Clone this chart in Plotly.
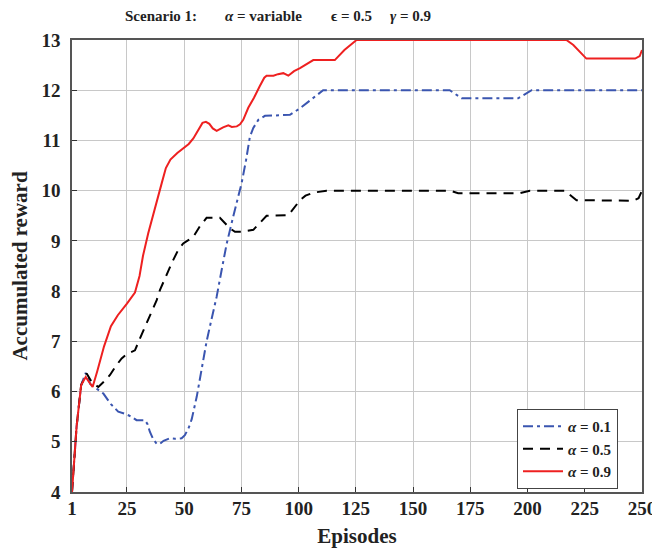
import plotly.graph_objects as go

# Episode / accumulated-reward samples for each learning rate
ep_a01 = [1, 3, 5, 7, 9, 11.8, 14.7, 18, 21.2, 24, 27, 29.2, 32.9, 34, 35, 36.5, 38, 39.4,
          41, 43.8, 46, 48.9, 50.3, 52, 53.3, 55.5, 57, 59.8, 62, 64.2, 66.5, 68.6, 71.4,
          73, 75.1, 77, 78.7, 80.2, 82.4, 85.3, 96.2, 100.6, 106.4, 110.7, 166, 171.2,
          195.9, 201.8, 250]
rw_a01 = [4.0, 5.3, 6.13, 6.37, 6.15, 6.06, 5.96, 5.75, 5.6, 5.56, 5.5, 5.43, 5.43, 5.35,
          5.2, 5.05, 4.96, 4.96, 5.02, 5.07, 5.06, 5.07, 5.13, 5.28, 5.45, 5.9, 6.3, 7.0,
          7.45, 7.89, 8.45, 8.95, 9.48, 9.75, 10.15, 10.6, 11.07, 11.25, 11.41, 11.49,
          11.51, 11.64, 11.84, 12.0, 12.0, 11.84, 11.84, 12.0, 12.0]

ep_a05 = [1, 3, 5, 7.4, 9.6, 12.5, 15, 17.6, 20, 22.7, 25, 28.5, 30.7, 33, 36, 38, 39.4,
          42, 45, 47.4, 49.6, 52, 54, 57, 59.8, 65.6, 68, 70, 72.2, 75, 80.2, 83.1, 86,
          95.5, 98, 100.6, 103, 106.4, 112.2, 166, 169.7, 196.6, 201, 216.3, 221.4,
          246.2, 248.5, 250]
rw_a05 = [4.0, 5.3, 6.13, 6.36, 6.19, 6.09, 6.2, 6.33, 6.5, 6.66, 6.75, 6.82, 7.06, 7.3,
          7.6, 7.82, 8.02, 8.3, 8.6, 8.82, 8.95, 9.02, 9.08, 9.3, 9.46, 9.46, 9.35, 9.25,
          9.18, 9.18, 9.22, 9.35, 9.5, 9.51, 9.65, 9.81, 9.9, 9.96, 10.0, 10.0, 9.95, 9.95,
          10.0, 10.0, 9.81, 9.8, 9.85, 10.0]

ep_a09 = [1, 3, 5, 7, 8, 10, 12, 15, 18, 21, 25, 28.5, 30.5, 32, 34.3, 36, 38, 40.2, 42,
          44, 47, 50, 52, 54, 56.9, 58, 59.5, 61, 62.5, 64.2, 67, 69.3, 70.8, 73, 74.4,
          75.8, 78, 80.5, 83, 85, 86, 89, 91, 93.3, 95.5, 98, 100.6, 103, 106.4, 115.8,
          120, 125.3, 217, 220, 223.6, 225.7, 247, 249, 250]
rw_a09 = [4.0, 5.3, 6.13, 6.29, 6.22, 6.09, 6.4, 6.9, 7.3, 7.52, 7.75, 7.97, 8.3, 8.7,
          9.15, 9.45, 9.75, 10.15, 10.45, 10.62, 10.75, 10.85, 10.93, 11.04, 11.25, 11.35,
          11.37, 11.33, 11.24, 11.19, 11.26, 11.3, 11.27, 11.28, 11.32, 11.41, 11.65,
          11.85, 12.08, 12.25, 12.29, 12.29, 12.32, 12.34, 12.29, 12.38, 12.44, 12.5,
          12.6, 12.6, 12.8, 13.0, 13.0, 12.9, 12.73, 12.63, 12.63, 12.68, 12.8]

x_ticks = [1, 25, 50, 75, 100, 125, 150, 175, 200, 225, 250]
y_ticks = [4, 5, 6, 7, 8, 9, 10, 11, 12, 13]

series_names = ["<i>α</i> = 0.1", "<i>α</i> = 0.5", "<i>α</i> = 0.9"]

SERIF = "Liberation Serif"

fig = go.Figure()
fig.add_trace(go.Scatter(x=ep_a01, y=rw_a01, mode="lines", name=series_names[0],
                         line=dict(color="#3a55b0", width=2, dash="10px,4px,3px,4px")))
fig.add_trace(go.Scatter(x=ep_a05, y=rw_a05, mode="lines", name=series_names[1],
                         line=dict(color="#000000", width=2, dash="10px,7px")))
fig.add_trace(go.Scatter(x=ep_a09, y=rw_a09, mode="lines", name=series_names[2],
                         line=dict(color="#ee2020", width=2)))

axis_common = dict(
    showgrid=True, gridcolor="#c8c8c8", gridwidth=1,
    showline=True, linecolor="#555555", linewidth=1.5, mirror=True,
    ticks="inside", ticklen=5, tickcolor="#333333", tickwidth=1,
    zeroline=False, automargin=False,
    tickfont=dict(family=SERIF, size=19, color="#222222", weight="bold"),
)

fig.update_xaxes(range=[1, 250], tickvals=x_ticks, ticktext=[str(v) for v in x_ticks],
                 ticklabeloverflow="allow",
                 title=dict(text="Episodes", standoff=12,
                            font=dict(family=SERIF, size=21, color="#222222", weight="bold")),
                 ticklabelstandoff=-2, **axis_common)
fig.update_yaxes(range=[4, 13], tickvals=y_ticks, ticktext=[str(v) for v in y_ticks],
                 title=dict(text="Accumulated reward", standoff=8,
                            font=dict(family=SERIF, size=21, color="#222222", weight="bold")),
                 ticklabelstandoff=6, **axis_common)

# Header pieces laid out along the top
header = [("Scenario 1:", 161), ("<i>α</i> = variable", 263),
          ("ϵ = 0.5", 351), ("<i>γ</i> = 0.9", 410)]
annotations = []
for text, px in header:
    annotations.append(dict(
        text=text, xref="paper", yref="paper", x=(px - 72) / 570, y=1 + 24 / 452,
        xanchor="center", yanchor="middle", showarrow=False,
        font=dict(family=SERIF, size=15, color="#222222", weight="bold")))

fig.update_layout(
    width=652, height=548,
    margin=dict(l=72, r=10, t=40, b=56, autoexpand=False),
    paper_bgcolor="white", plot_bgcolor="white",
    showlegend=True,
    legend=dict(x=(517 - 72) / 570, y=(492 - 409) / 452, xanchor="left", yanchor="top",
                bgcolor="white", bordercolor="#444444", borderwidth=1,
                font=dict(family=SERIF, size=15, color="#222222", weight="bold"),
                tracegroupgap=0, itemwidth=40),
    annotations=annotations,
)

fig.write_html("out.html")
